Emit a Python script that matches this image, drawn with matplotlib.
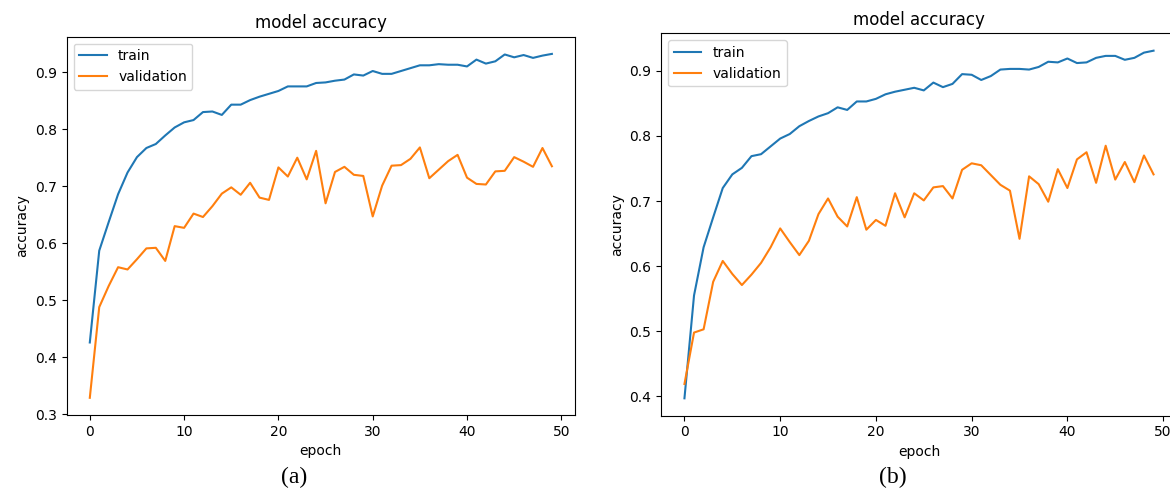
import matplotlib
matplotlib.use("Agg")
import matplotlib.pyplot as plt

epochs = list(range(50))

train_a = [0.426, 0.587, 0.637, 0.686, 0.724, 0.751, 0.767, 0.774, 0.789, 0.803,
           0.812, 0.816, 0.830, 0.831, 0.825, 0.843, 0.843, 0.851, 0.857, 0.862,
           0.867, 0.875, 0.875, 0.875, 0.881, 0.882, 0.885, 0.887, 0.896, 0.894,
           0.902, 0.897, 0.897, 0.902, 0.907, 0.912, 0.912, 0.914, 0.913, 0.913,
           0.910, 0.922, 0.915, 0.919, 0.931, 0.926, 0.930, 0.925, 0.929, 0.932]
val_a = [0.329, 0.488, 0.525, 0.558, 0.554, 0.572, 0.591, 0.592, 0.569, 0.630,
         0.627, 0.652, 0.646, 0.665, 0.687, 0.698, 0.685, 0.706, 0.680, 0.676,
         0.733, 0.717, 0.750, 0.712, 0.762, 0.670, 0.725, 0.734, 0.720, 0.718,
         0.647, 0.701, 0.736, 0.737, 0.748, 0.768, 0.714, 0.729, 0.744, 0.755,
         0.715, 0.704, 0.703, 0.726, 0.727, 0.751, 0.743, 0.734, 0.767, 0.735]

train_b = [0.397, 0.555, 0.629, 0.675, 0.720, 0.741, 0.751, 0.769, 0.772, 0.784,
           0.796, 0.803, 0.815, 0.823, 0.830, 0.835, 0.844, 0.840, 0.853, 0.853,
           0.857, 0.864, 0.868, 0.871, 0.874, 0.870, 0.882, 0.875, 0.880, 0.895,
           0.894, 0.886, 0.892, 0.902, 0.903, 0.903, 0.902, 0.906, 0.914, 0.913,
           0.919, 0.912, 0.913, 0.920, 0.923, 0.923, 0.917, 0.920, 0.928, 0.931]
val_b = [0.419, 0.498, 0.503, 0.576, 0.608, 0.588, 0.571, 0.587, 0.605, 0.629,
         0.658, 0.637, 0.617, 0.639, 0.680, 0.704, 0.676, 0.661, 0.706, 0.656,
         0.671, 0.662, 0.712, 0.675, 0.712, 0.701, 0.721, 0.723, 0.704, 0.748,
         0.758, 0.755, 0.740, 0.725, 0.716, 0.642, 0.738, 0.726, 0.699, 0.749,
         0.720, 0.764, 0.775, 0.728, 0.785, 0.733, 0.760, 0.729, 0.770, 0.741]

title = "model accuracy"
xlabel = "epoch"
ylabel = "accuracy"
legend_labels = ["train", "validation"]
captions = ["(a)", "(b)"]

W, H = 1170, 488
fig = plt.figure(figsize=(W / 100, H / 100), dpi=100)

def px_axes(x0, y0, x1, y1):
    return fig.add_axes([x0 / W, 1 - y1 / H, (x1 - x0) / W, (y1 - y0) / H])

ax1 = px_axes(66.7, 36.7, 575, 415)
ax2 = px_axes(661, 33.3, 1177, 415.7)

for ax, tr, va in [(ax1, train_a, val_a), (ax2, train_b, val_b)]:
    ax.plot(epochs, tr, color="#1f77b4", lw=1.5, label=legend_labels[0])
    ax.plot(epochs, va, color="#ff7f0e", lw=1.5, label=legend_labels[1])
    ax.set_title(title, fontsize=12)
    ax.set_xlabel(xlabel, fontsize=10)
    ax.set_ylabel(ylabel, fontsize=10)
    ax.tick_params(labelsize=10)
    ax.legend(loc="upper left", fontsize=10)

fig.text(294 / W, 1 - 477 / H, captions[0], ha="center", va="center",
         fontsize=17, family="Liberation Serif")
fig.text(893 / W, 1 - 477 / H, captions[1], ha="center", va="center",
         fontsize=17, family="Liberation Serif")

fig.savefig("out.png", dpi=100)
